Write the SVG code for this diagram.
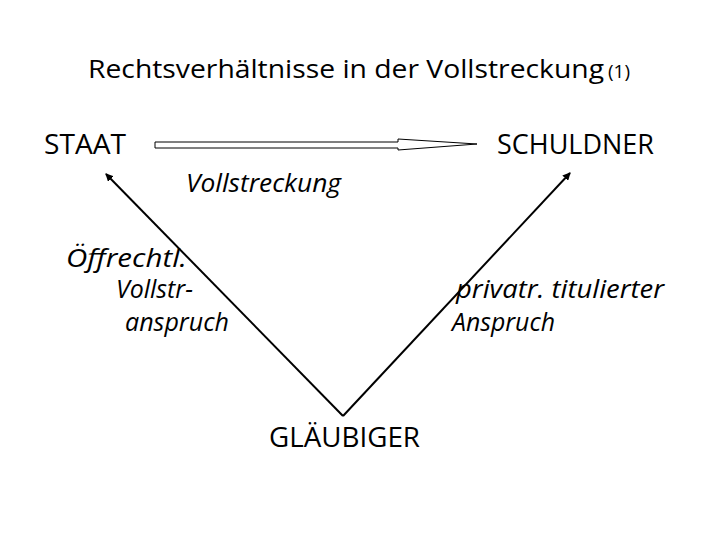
<svg xmlns="http://www.w3.org/2000/svg" width="720" height="540" viewBox="0 0 720 540">
<style>
text{font-family:"Open Sans","Liberation Sans",sans-serif;fill:#000}
.n{font-size:27px}
.t{font-size:26px}
.i{font-size:25px;font-style:italic}
.ln{stroke:#000;stroke-width:2;fill:none}
</style>
<defs>
<marker id="ah" markerWidth="8" markerHeight="8" refX="7" refY="4" orient="auto" markerUnits="userSpaceOnUse" viewBox="0 0 8 8">
<path d="M0,0 L8,4 L0,8 Z" fill="#000"/>
</marker>
</defs>
<rect width="720" height="540" fill="#fff"/>
<g id="title">
<text x="88" y="78" class="t" textLength="516" lengthAdjust="spacingAndGlyphs">Rechtsverhältnisse in der Vollstreckung</text>
<text x="608" y="78" font-size="18" textLength="22" lengthAdjust="spacingAndGlyphs">(1)</text>
</g>
<g id="staat"><text x="44" y="154" class="n" textLength="82" lengthAdjust="spacingAndGlyphs">STAAT</text></g>
<g id="schuldner"><text x="497" y="154" class="n" textLength="157" lengthAdjust="spacingAndGlyphs">SCHULDNER</text></g>
<g id="glaeubiger"><text x="269" y="447" class="n" textLength="151" lengthAdjust="spacingAndGlyphs">GLÄUBIGER</text></g>
<g id="connectors">
<path d="M155,142 H398 V139 L477,144 L398,150 V148 H155 Z" fill="#fff" stroke="#000" stroke-width="1"/>
<line class="ln" x1="343" y1="416" x2="106" y2="174" marker-end="url(#ah)"/>
<line class="ln" x1="343" y1="416" x2="570" y2="173" marker-end="url(#ah)"/>
</g>
<g id="labels">
<text x="186" y="192" class="i" textLength="155" lengthAdjust="spacingAndGlyphs">Vollstreckung</text>
<text x="66" y="267" class="i" textLength="121" lengthAdjust="spacingAndGlyphs">Öffrechtl.</text>
<text x="116" y="298" class="i" textLength="77" lengthAdjust="spacingAndGlyphs">Vollstr-</text>
<text x="125" y="331" class="i" textLength="104" lengthAdjust="spacingAndGlyphs">anspruch</text>
<text x="456" y="298" class="i" textLength="208" lengthAdjust="spacingAndGlyphs">privatr. titulierter</text>
<text x="452" y="331" class="i" textLength="103" lengthAdjust="spacingAndGlyphs">Anspruch</text>
</g>
</svg>
